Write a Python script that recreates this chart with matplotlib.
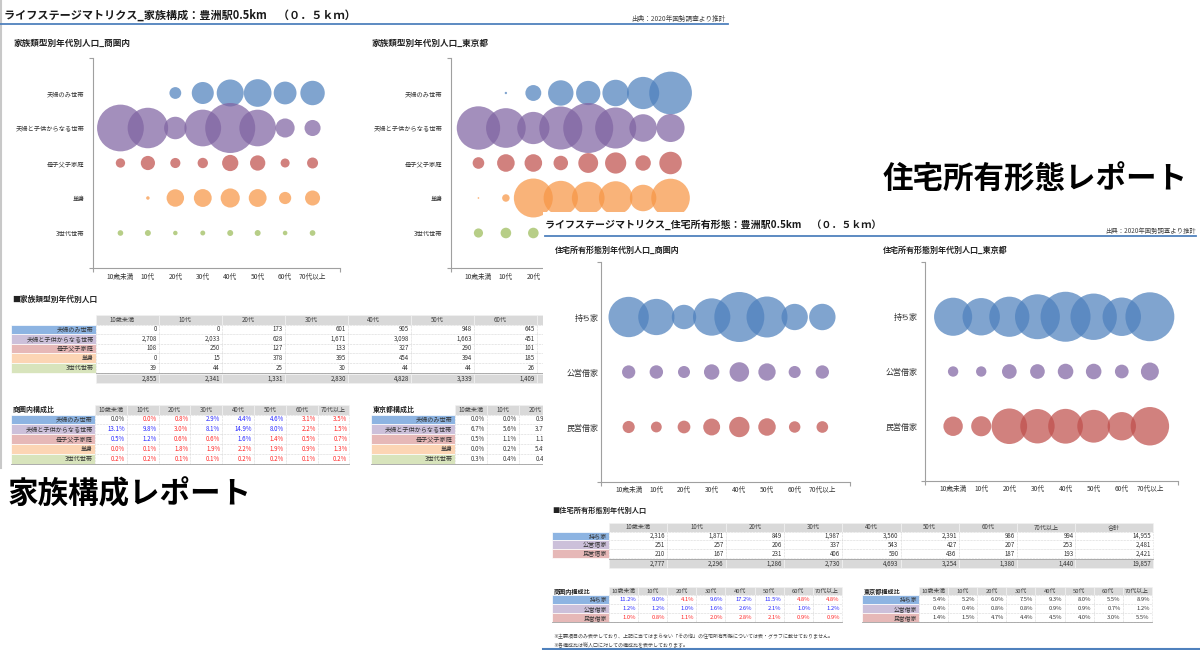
import matplotlib
matplotlib.use('Agg')
import matplotlib.pyplot as plt
from matplotlib.patches import Rectangle
import numpy as np

plt.rcParams['font.family'] = ['Noto Sans CJK JP', 'DejaVu Sans']

W, H = 1200, 650

ages = ['10歳未満', '10代', '20代', '30代', '40代', '50代', '60代', '70代以上']

# ---- 家族構成 ----
family = ['夫婦のみ世帯', '夫婦と子供からなる世帯', '母子父子家庭', '単身', '3世代世帯']
family_pop = [
    [0, 0, 173, 601, 905, 948, 645, 740],
    [2708, 2033, 628, 1671, 3098, 1663, 451, 320],
    [108, 250, 127, 133, 327, 290, 101, 150],
    [0, 15, 378, 395, 454, 394, 185, 280],
    [39, 44, 25, 30, 44, 44, 26, 40],
]
family_total = [2855, 2341, 1331, 2830, 4828, 3339, 1409, 1530]
family_share_area = [
    [0.0, 0.0, 0.8, 2.9, 4.4, 4.6, 3.1, 3.5],
    [13.1, 9.8, 3.0, 8.1, 14.9, 8.0, 2.2, 1.5],
    [0.5, 1.2, 0.6, 0.6, 1.6, 1.4, 0.5, 0.7],
    [0.0, 0.1, 1.8, 1.9, 2.2, 1.9, 0.9, 1.3],
    [0.2, 0.2, 0.1, 0.1, 0.2, 0.2, 0.1, 0.2],
]
family_share_tokyo = [
    [0.0, 0.02, 0.9, 2.3, 2.1, 2.5, 3.7, 6.5],
    [6.7, 5.6, 3.7, 6.6, 8.9, 6.0, 2.7, 2.8],
    [0.48, 1.1, 1.1, 0.75, 1.4, 1.6, 0.85, 1.8],
    [0.01, 0.2, 5.4, 4.2, 3.8, 4.0, 2.5, 5.3],
    [0.3, 0.4, 0.4, 0.3, 0.3, 0.3, 0.2, 0.3],
]
family_colors = ['#4F81BD', '#8064A2', '#C0504D', '#F79646', '#9BBB59']
family_fills = ['#8DB4E2', '#CCC0DA', '#E6B8B7', '#FCD5B4', '#D8E4BC']

# ---- 住宅所有形態 ----
housing = ['持ち家', '公営借家', '民営借家']
housing_pop = [
    [2316, 1871, 849, 1987, 3560, 2391, 986, 994],
    [251, 257, 206, 337, 543, 427, 207, 253],
    [210, 167, 231, 406, 590, 436, 187, 193],
]
housing_row_total = [14955, 2481, 2421]
housing_total = [2777, 2296, 1286, 2730, 4693, 3254, 1380, 1440]
housing_grand_total = 19857
housing_share_area = [
    [11.2, 9.0, 4.1, 9.6, 17.2, 11.5, 4.8, 4.8],
    [1.2, 1.2, 1.0, 1.6, 2.6, 2.1, 1.0, 1.22],
    [1.0, 0.8, 1.1, 2.0, 2.8, 2.1, 0.9, 0.9],
]
housing_share_tokyo = [
    [5.4, 5.2, 6.0, 7.5, 9.3, 8.0, 5.5, 8.9],
    [0.4, 0.4, 0.8, 0.8, 0.9, 0.9, 0.7, 1.2],
    [1.4, 1.5, 4.7, 4.4, 4.5, 4.0, 3.0, 5.5],
]
housing_colors = ['#4F81BD', '#8064A2', '#C0504D']
housing_fills = ['#8DB4E2', '#CCC0DA', '#E6B8B7']

BLUE_LINE = '#4F81BD'
TXT = '#333333'

fig = plt.figure(figsize=(12, 6.5), dpi=100)


def canvas(z):
    ax = fig.add_axes([0, 0, 1, 1], zorder=z)
    ax.set_xlim(0, W)
    ax.set_ylim(H, 0)
    ax.axis('off')
    return ax


def px_axes(x0, y0, x1, y1, z):
    return fig.add_axes([x0 / W, 1 - y1 / H, (x1 - x0) / W, (y1 - y0) / H], zorder=z)


def bubble_chart(rect, z, rows, values, colors, ylab_fs, xlab_fs, ypad, xpad, dmax=50):
    ax = px_axes(*rect, z)
    ax.set_facecolor('none')
    vals = np.array(values, float)
    vmax = vals.max()
    n = len(rows)
    x = np.arange(1, len(ages) + 1)
    for i, row in enumerate(vals):
        d = dmax * np.sqrt(row / vmax)
        ax.scatter(x, np.full(len(x), n - i), s=(d * 0.72) ** 2, c=colors[i],
                   alpha=0.72, edgecolors='none', clip_on=False, zorder=3)
    ax.set_xlim(0, len(ages) + 1)
    ax.set_ylim(0, n + 1)
    for sp in ['top', 'right']:
        ax.spines[sp].set_visible(False)
    for sp in ['left', 'bottom']:
        ax.spines[sp].set_color('#a0a0a0')
        ax.spines[sp].set_linewidth(0.8)
    ax.set_xticks(x)
    ax.set_xticklabels(ages, fontsize=xlab_fs, color=TXT)
    ax.set_yticks(np.arange(n, 0, -1))
    ax.set_yticklabels(rows, fontsize=ylab_fs, color=TXT)
    ax.tick_params(axis='x', length=0, pad=xpad)
    ax.tick_params(axis='y', length=0, pad=ypad)
    ax.set_xticks([0, len(ages) + 1], minor=True)
    ax.set_yticks([0, n + 1], minor=True)
    ax.tick_params(which='minor', length=3, color='#a0a0a0', width=0.8)
    return ax


def share_color(a, t):
    if a > t:
        return '#2626FF'
    if a < t:
        return '#FF2626'
    return TXT


def draw_table(ax, x0, y0, hdr_w, col_ws, hdr_h, row_h, col_labels, row_labels,
               row_fills, cells, cell_colors=None, title=None, total=None,
               fs=4.2, hfrac=0.5, tfs=None, xclip=W):
    tfs = tfs or fs
    xs = x0 + hdr_w + np.concatenate([[0], np.cumsum(col_ws)])
    if title:
        ax.text(x0 + 2, y0 + hdr_h / 2, title, fontsize=tfs, fontweight='bold',
                color='#222222', va='center', ha='left')
    for j, lab in enumerate(col_labels):
        ax.add_patch(Rectangle((xs[j], y0), col_ws[j], hdr_h, fc='#D9D9D9',
                               ec='#F2F2F2', lw=0.5))
        cx = xs[j] + col_ws[j] * hfrac
        if cx - 9 < xclip:
            ax.text(cx, y0 + hdr_h / 2, lab, fontsize=fs, color='#404040',
                    ha='center', va='center')
    for i, lab in enumerate(row_labels):
        y = y0 + hdr_h + i * row_h
        ax.add_patch(Rectangle((x0, y), hdr_w, row_h, fc=row_fills[i], ec='white', lw=0.5))
        ax.text(x0 + hdr_w - 2, y + row_h / 2, lab, fontsize=fs, color=TXT,
                ha='right', va='center')
        for j, v in enumerate(cells[i]):
            ax.add_patch(Rectangle((xs[j], y), col_ws[j], row_h, fc='white',
                                   ec='#C8C8C8', lw=0.4, ls=':'))
            c = cell_colors[i][j] if cell_colors else TXT
            if xs[j + 1] - 20 < xclip:
                ax.text(xs[j + 1] - 2, y + row_h / 2, v, fontsize=fs, color=c,
                        ha='right', va='center')
    yb = y0 + hdr_h + len(row_labels) * row_h
    if total is not None:
        for j, v in enumerate(total):
            ax.add_patch(Rectangle((xs[j], yb + 1), col_ws[j], row_h, fc='#D9D9D9',
                                   ec='#F2F2F2', lw=0.5))
            if xs[j + 1] - 20 < xclip:
                ax.text(xs[j + 1] - 2, yb + 1 + row_h / 2, v, fontsize=fs, color=TXT,
                        ha='right', va='center')
        ax.plot([xs[0], xs[-1]], [yb + 0.5, yb + 0.5], color='#A0A0A0', lw=0.6)
    else:
        ax.plot([x0, xs[-1]], [yb, yb], color='#A0A0A0', lw=0.6)


R2X, R2Y = 543, 212   # 住宅所有形態レポートの左上

# ================= レポート1：家族構成 =================
ax1 = canvas(0)
ax1.plot([1, 1], [0, 468], color='#C8C8C8', lw=1.5)
ax1.text(4, 15, 'ライフステージマトリクス_家族構成：豊洲駅0.5km　（０．５ｋｍ）',
         fontsize=8.0, fontweight='bold', color='#1A1A1A', va='center')
ax1.text(725, 19, '出典：2020年国勢調査より推計', fontsize=4.8, color='#444444',
         ha='right', va='center')
ax1.plot([0, 728], [24, 24], color=BLUE_LINE, lw=1.3)
ax1.text(14, 43, '家族類型別年代別人口_商圏内', fontsize=6.2, fontweight='bold',
         color='#222222', va='center')
ax1.text(372, 43, '家族類型別年代別人口_東京都', fontsize=6.2, fontweight='bold',
         color='#222222', va='center')

bubble_chart((93, 58, 340, 268), 1, family, family_pop, family_colors, 4.5, 4.8, 6, 3.6)
bubble_chart((451, 58, 698, 268), 1, family, family_share_tokyo, family_colors, 4.5, 4.8, 6, 3.6)

ax1.text(12, 299, '■家族類型別年代別人口', fontsize=5.6, fontweight='bold',
         color='#222222', va='center')
draw_table(ax1, 10.5, 315, 85.5, [63] * 8, 9.5, 9.6, ages, family, family_fills,
           [[f'{v:,}' for v in r] for r in family_pop],
           total=[f'{v:,}' for v in family_total], fs=4.4, hfrac=0.41, xclip=R2X)

area_cols = [[share_color(a, t) for a, t in zip(ra, rt)]
             for ra, rt in zip(family_share_area, family_share_tokyo)]
draw_table(ax1, 10.5, 405, 84.5, [31.8] * 8, 9.5, 9.9, ages, family, family_fills,
           [[f'{v:.1f}%' for v in r] for r in family_share_area],
           cell_colors=area_cols, title='商圏内構成比', fs=4.4, tfs=5.0, xclip=R2X)
draw_table(ax1, 370.5, 405, 84, [32.3] * 8, 9.5, 9.9, ages, family, family_fills,
           [[f'{v:.1f}%' for v in r] for r in family_share_tokyo],
           title='東京都構成比', fs=4.4, tfs=5.0, xclip=R2X)

# ================= レポート2：住宅所有形態 =================
ax2 = canvas(2)
ax2.add_patch(Rectangle((R2X, R2Y), W - R2X, H - R2Y, fc='white', ec='none', zorder=0))
ax2.text(545, 225, 'ライフステージマトリクス_住宅所有形態：豊洲駅0.5km　（０．５ｋｍ）',
         fontsize=7.2, fontweight='bold', color='#1A1A1A', va='center')
ax2.text(1196, 231, '出典：2020年国勢調査より推計', fontsize=4.6, color='#444444',
         ha='right', va='center')
ax2.plot([545, 1196], [236, 236], color=BLUE_LINE, lw=1.3)
ax2.text(555, 250, '住宅所有形態別年代別人口_商圏内', fontsize=5.8, fontweight='bold',
         color='#222222', va='center')
ax2.text(883, 250, '住宅所有形態別年代別人口_東京都', fontsize=5.8, fontweight='bold',
         color='#222222', va='center')

bubble_chart((601, 262, 850, 482), 3, housing, housing_pop, housing_colors, 5.8, 4.8, 1.5, 3.2)
bubble_chart((925, 262, 1178, 481), 3, housing, housing_share_tokyo, housing_colors, 5.8, 4.8, 5, 3.2)

ax2.text(552, 510, '■住宅所有形態別年代別人口', fontsize=5.2, fontweight='bold',
         color='#222222', va='center')
draw_table(ax2, 552, 523, 57, [58.3] * 8 + [77.5], 8.6, 8.8, ages + ['合計'], housing,
           housing_fills,
           [[f'{v:,}' for v in r] + [f'{t:,}'] for r, t in zip(housing_pop, housing_row_total)],
           total=[f'{v:,}' for v in housing_total] + [f'{housing_grand_total:,}'], fs=4.4)

h_cols = [[share_color(a, t) for a, t in zip(ra, rt)]
          for ra, rt in zip(housing_share_area, housing_share_tokyo)]
draw_table(ax2, 552, 587, 57, [29.1] * 8, 8.4, 9.0, ages, housing, housing_fills,
           [[f'{v:.1f}%' for v in r] for r in housing_share_area],
           cell_colors=h_cols, title='商圏内構成比', fs=4.2, tfs=4.4)
draw_table(ax2, 862, 587, 57, [29.1] * 8, 8.4, 9.0, ages, housing, housing_fills,
           [[f'{v:.1f}%' for v in r] for r in housing_share_tokyo],
           title='東京都構成比', fs=4.2, tfs=4.4)

ax2.text(553, 636, '※主要項目のみ表示しており、上記に当てはまらない「その他」の住宅所有形態については表・グラフに載せておりません。',
         fontsize=3.6, color='#444444', va='center')
ax2.text(553, 644, '※各構成比は総人口に対しての構成比を表示しております。',
         fontsize=3.6, color='#444444', va='center')
ax2.plot([R2X, W], [649, 649], color=BLUE_LINE, lw=1.5)

# ================= 見出し =================
ax3 = canvas(4)
ax3.text(1035, 180, '住宅所有形態レポート', fontsize=22, fontweight='bold',
         color='black', ha='center', va='center')
ax3.text(130, 494, '家族構成レポート', fontsize=22, fontweight='bold',
         color='black', ha='center', va='center')

fig.savefig('out.png', dpi=100, facecolor='white')
